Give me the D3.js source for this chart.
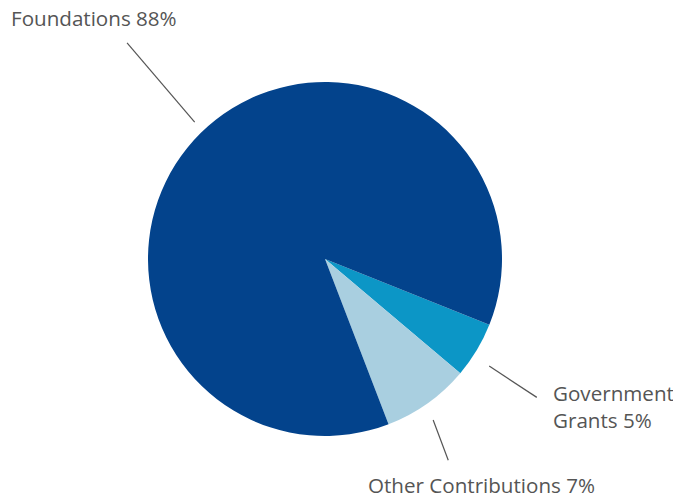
<!DOCTYPE html>
<html>
<head>
<meta charset="utf-8">
<script src="https://cdn.jsdelivr.net/npm/d3@7"></script>
<style>
  body { margin: 0; background: #fff; }
  text { font-family: "Open Sans", sans-serif; fill: #555; }
</style>
</head>
<body>
<svg class="chart"></svg>
<script>
let width = 673, height = 498;
let cx = 325, cy = 259, r = 177;

// slice shares (drawn order: clockwise from ~112deg)
let categories = ["Government Grants", "Other Contributions", "Foundations"];
let shares = [5.1, 8.0, 86.9];
let labels = [["Government", "Grants 5%"], ["Other Contributions 7%"], ["Foundations 88%"]];
let colors = ["#0c96c6", "#a9cfe0", "#03438c"];

// label placement: leader line (start/end radius, angle offsets), text pos
let leader = [
  { r0: 196, r1: 253, da0: 0.037, da1: 0.038, tx: 553, ty: 401 },
  { r0: 194, r1: 236, da0: 0.027, da1: 0.069, tx: 368, ty: 493 },
  { r0: 189, r1: 293, da0: 0.018, da1: 0.037, tx: 11, ty: 26 }
];

let svg = d3.select(".chart")
  .attr("width", width)
  .attr("height", height);

let g = svg.append("g")
  .attr("transform", "translate(" + cx + "," + cy + ")");

let start = 111.8 * Math.PI / 180;
let pie = d3.pie().sort(null).value(d => d)
  .startAngle(start).endAngle(start + 2 * Math.PI);
let arcs = pie(shares);

let arc = d3.arc().innerRadius(0).outerRadius(r);

g.selectAll("path.slice")
  .data(arcs)
  .enter().append("path")
  .attr("class", "slice")
  .attr("d", arc)
  .style("fill", (d, i) => colors[i]);

// leader lines
function pt(a, rad) { return [rad * Math.sin(a), -rad * Math.cos(a)]; }

g.selectAll("line.leader")
  .data(arcs)
  .enter().append("line")
  .attr("class", "leader")
  .each(function (d, i) {
    let mid = (d.startAngle + d.endAngle) / 2;
    let p0 = pt(mid + leader[i].da0, leader[i].r0);
    let p1 = pt(mid + leader[i].da1, leader[i].r1);
    d3.select(this)
      .attr("x1", p0[0]).attr("y1", p0[1])
      .attr("x2", p1[0]).attr("y2", p1[1]);
  })
  .style("stroke", "#555")
  .style("stroke-width", 1.2);

// labels
labels.forEach((lines, i) => {
  let t = svg.append("text")
    .attr("x", leader[i].tx)
    .attr("y", leader[i].ty)
    .style("font-size", "20.6px");
  lines.forEach((s, j) => {
    t.append("tspan")
      .attr("x", leader[i].tx)
      .attr("dy", j === 0 ? 0 : 27)
      .text(s);
  });
});
</script>
</body>
</html>
